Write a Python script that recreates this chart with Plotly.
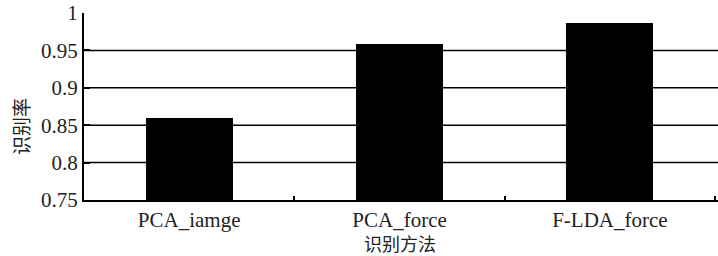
import plotly.graph_objects as go

categories = ["PCA_iamge", "PCA_force", "F-LDA_force"]
values = [0.859, 0.958, 0.987]
y_ticks = [0.75, 0.8, 0.85, 0.9, 0.95, 1]
y_tick_text = ["0.75", "0.8", "0.85", "0.9", "0.95", "1"]
grid_vals = [0.8, 0.85, 0.9, 0.95]

FONT = "Liberation Serif"

fig = go.Figure()
fig.add_trace(go.Bar(
    x=categories, y=values, width=0.414,
    marker=dict(color="black", line=dict(width=0)),
))

for g in grid_vals:
    fig.add_shape(type="line", xref="paper", yref="y", x0=0, x1=1, y0=g, y1=g,
                  line=dict(color="black", width=1.5), layer="below")

fig.update_layout(
    width=718, height=256,
    margin=dict(l=84, r=0, t=13, b=56),
    paper_bgcolor="white", plot_bgcolor="white",
    showlegend=False,
    font=dict(family=FONT, size=18, color="black"),
    bargap=0,
    annotations=[
        dict(text="识别率", xref="paper", yref="paper", x=0, y=0.39,
             xanchor="center", yanchor="middle", xshift=-64, textangle=-90,
             showarrow=False, font=dict(family="Noto Sans CJK SC", size=19, color="#222")),
        dict(text="识别方法", xref="paper", yref="paper", x=(400 - 84) / 634, y=0,
             xanchor="center", yanchor="middle", yshift=-43,
             showarrow=False, font=dict(family="Noto Sans CJK SC", size=18, color="#222")),
    ],
)
fig.update_xaxes(
    range=[-0.5, 2.514], showline=True, linecolor="black", linewidth=2,
    ticks="inside", ticklen=4, tickwidth=1.5, tickcolor="black", tickson="boundaries",
    showgrid=False, zeroline=False, automargin=False,
    tickfont=dict(family=FONT, size=21, color="#222"),
)
fig.update_yaxes(
    range=[0.75, 1], showline=True, linecolor="black", linewidth=2,
    tickvals=y_ticks, ticktext=y_tick_text,
    ticks="inside", ticklen=6, tickwidth=1.5, tickcolor="black",
    showgrid=False, zeroline=False, automargin=False,
    tickfont=dict(family=FONT, size=21, color="#222"),
)

fig.write_html(
    "out.html",
    config={"displayModeBar": False},
    post_script="document.body.style.margin='0';document.body.style.overflow='hidden';",
)
